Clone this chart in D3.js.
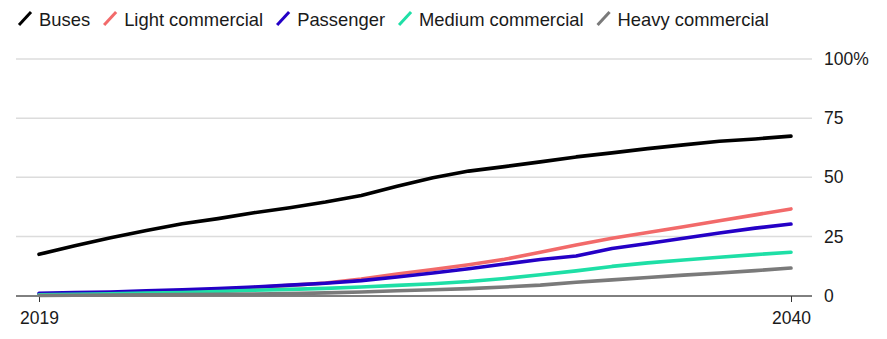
<!DOCTYPE html>
<html>
<head>
<meta charset="utf-8">
<script src="https://cdn.jsdelivr.net/npm/d3@7"></script>
<style>
  html, body { margin: 0; padding: 0; background: #fff; }
  svg { display: block; font-family: "Liberation Sans", Arial, Helvetica, sans-serif; }
</style>
</head>
<body>
<svg id="chart" width="887" height="339"></svg>
<script>
// Share of new vehicle sales, by segment, 2019–2040 (%)
const years = d3.range(2019, 2041);
const buses = [17.4, 21.0, 24.4, 27.5, 30.3, 32.5, 35.0, 37.1, 39.5, 42.3, 46.2, 49.8,
               52.6, 54.5, 56.5, 58.6, 60.3, 62.1, 63.7, 65.2, 66.2, 67.4];
const lightCommercial = [0.3, 0.6, 0.9, 1.3, 1.8, 2.6, 3.4, 4.3, 5.3, 7.0, 9.1, 11.0,
               13.0, 15.3, 18.3, 21.4, 24.2, 26.6, 29.1, 31.6, 34.1, 36.6];
const passenger = [0.9, 1.2, 1.5, 2.0, 2.4, 2.9, 3.6, 4.4, 5.2, 6.3, 7.8, 9.5,
               11.3, 13.3, 15.2, 16.7, 19.9, 22.0, 24.2, 26.4, 28.5, 30.2];
const mediumCommercial = [0.3, 0.5, 0.7, 1.0, 1.3, 1.7, 2.2, 2.6, 3.0, 3.6, 4.3, 5.0,
               5.9, 7.2, 8.8, 10.4, 12.3, 13.8, 15.0, 16.2, 17.3, 18.3];
const heavyCommercial = [0.0, 0.1, 0.2, 0.3, 0.4, 0.5, 0.6, 0.8, 1.1, 1.5, 2.0, 2.4,
               2.9, 3.6, 4.4, 5.6, 6.6, 7.6, 8.6, 9.5, 10.5, 11.6];

const seriesNames = ["Buses", "Light commercial", "Passenger", "Medium commercial", "Heavy commercial"];
const seriesValues = [buses, lightCommercial, passenger, mediumCommercial, heavyCommercial];
const seriesColors = ["#000000", "#f26a6a", "#2400c6", "#1edfa6", "#7a7a7a"];

const yTicks = [0, 25, 50, 75, 100];
const xTickYears = [2019, 2040];

const svg = d3.select("#chart");

const x = d3.scaleLinear().domain([2019, 2040]).range([39, 791]);
const y = d3.scaleLinear().domain([0, 100]).range([295.5, 59]);

const gridLeft = 16, gridRight = 812;

// Horizontal gridlines
svg.append("g")
  .selectAll("line")
  .data(yTicks.filter(d => d > 0))
  .join("line")
  .attr("x1", gridLeft).attr("x2", gridRight)
  .attr("y1", d => y(d)).attr("y2", d => y(d))
  .attr("stroke", "#dcdcdc")
  .attr("stroke-width", 1.5);

// Right-hand value labels
svg.append("g")
  .selectAll("text")
  .data(yTicks)
  .join("text")
  .attr("x", 824)
  .attr("y", d => y(d))
  .attr("dy", "0.35em")
  .attr("font-size", 17.5)
  .attr("fill", "#1a1a1a")
  .text(d => d === 100 ? "100%" : d);

// Baseline axis with year ticks
const xAxis = d3.axisBottom(x)
  .tickValues(xTickYears)
  .tickFormat(d3.format("d"))
  .tickSize(6)
  .tickPadding(10);

const axisG = svg.append("g")
  .attr("transform", `translate(0,${y(0) + 0.5})`)
  .call(xAxis);
axisG.select(".domain").remove();
axisG.insert("line", ":first-child")
  .attr("x1", gridLeft).attr("x2", gridRight)
  .attr("y1", 0).attr("y2", 0)
  .attr("stroke", "#000").attr("stroke-width", 1);
axisG.selectAll(".tick line").attr("stroke", "#333");
axisG.selectAll(".tick text")
  .attr("font-size", 17.5)
  .attr("font-family", "Liberation Sans, Arial, sans-serif")
  .attr("fill", "#1a1a1a");

// Series lines
const line = d3.line()
  .x((d, i) => x(years[i]))
  .y(d => y(d));

svg.append("g")
  .selectAll("path")
  .data(seriesValues)
  .join("path")
  .attr("d", d => line(d))
  .attr("fill", "none")
  .attr("stroke", (d, i) => seriesColors[i])
  .attr("stroke-width", 3.6)
  .attr("stroke-linejoin", "round")
  .attr("stroke-linecap", "round");

// Legend
const legend = svg.append("g").attr("class", "legend");
let lx = 18;
seriesNames.forEach((name, i) => {
  const g = legend.append("g");
  g.append("line")
    .attr("x1", lx + 1).attr("y1", 25)
    .attr("x2", lx + 13).attr("y2", 12)
    .attr("stroke", seriesColors[i])
    .attr("stroke-width", 3);
  const t = g.append("text")
    .attr("x", lx + 21)
    .attr("y", 25.5)
    .attr("font-size", 18.4)
    .attr("fill", "#1a1a1a")
    .text(name);
  lx = lx + 21 + t.node().getComputedTextLength() + 13;
});
</script>
</body>
</html>
